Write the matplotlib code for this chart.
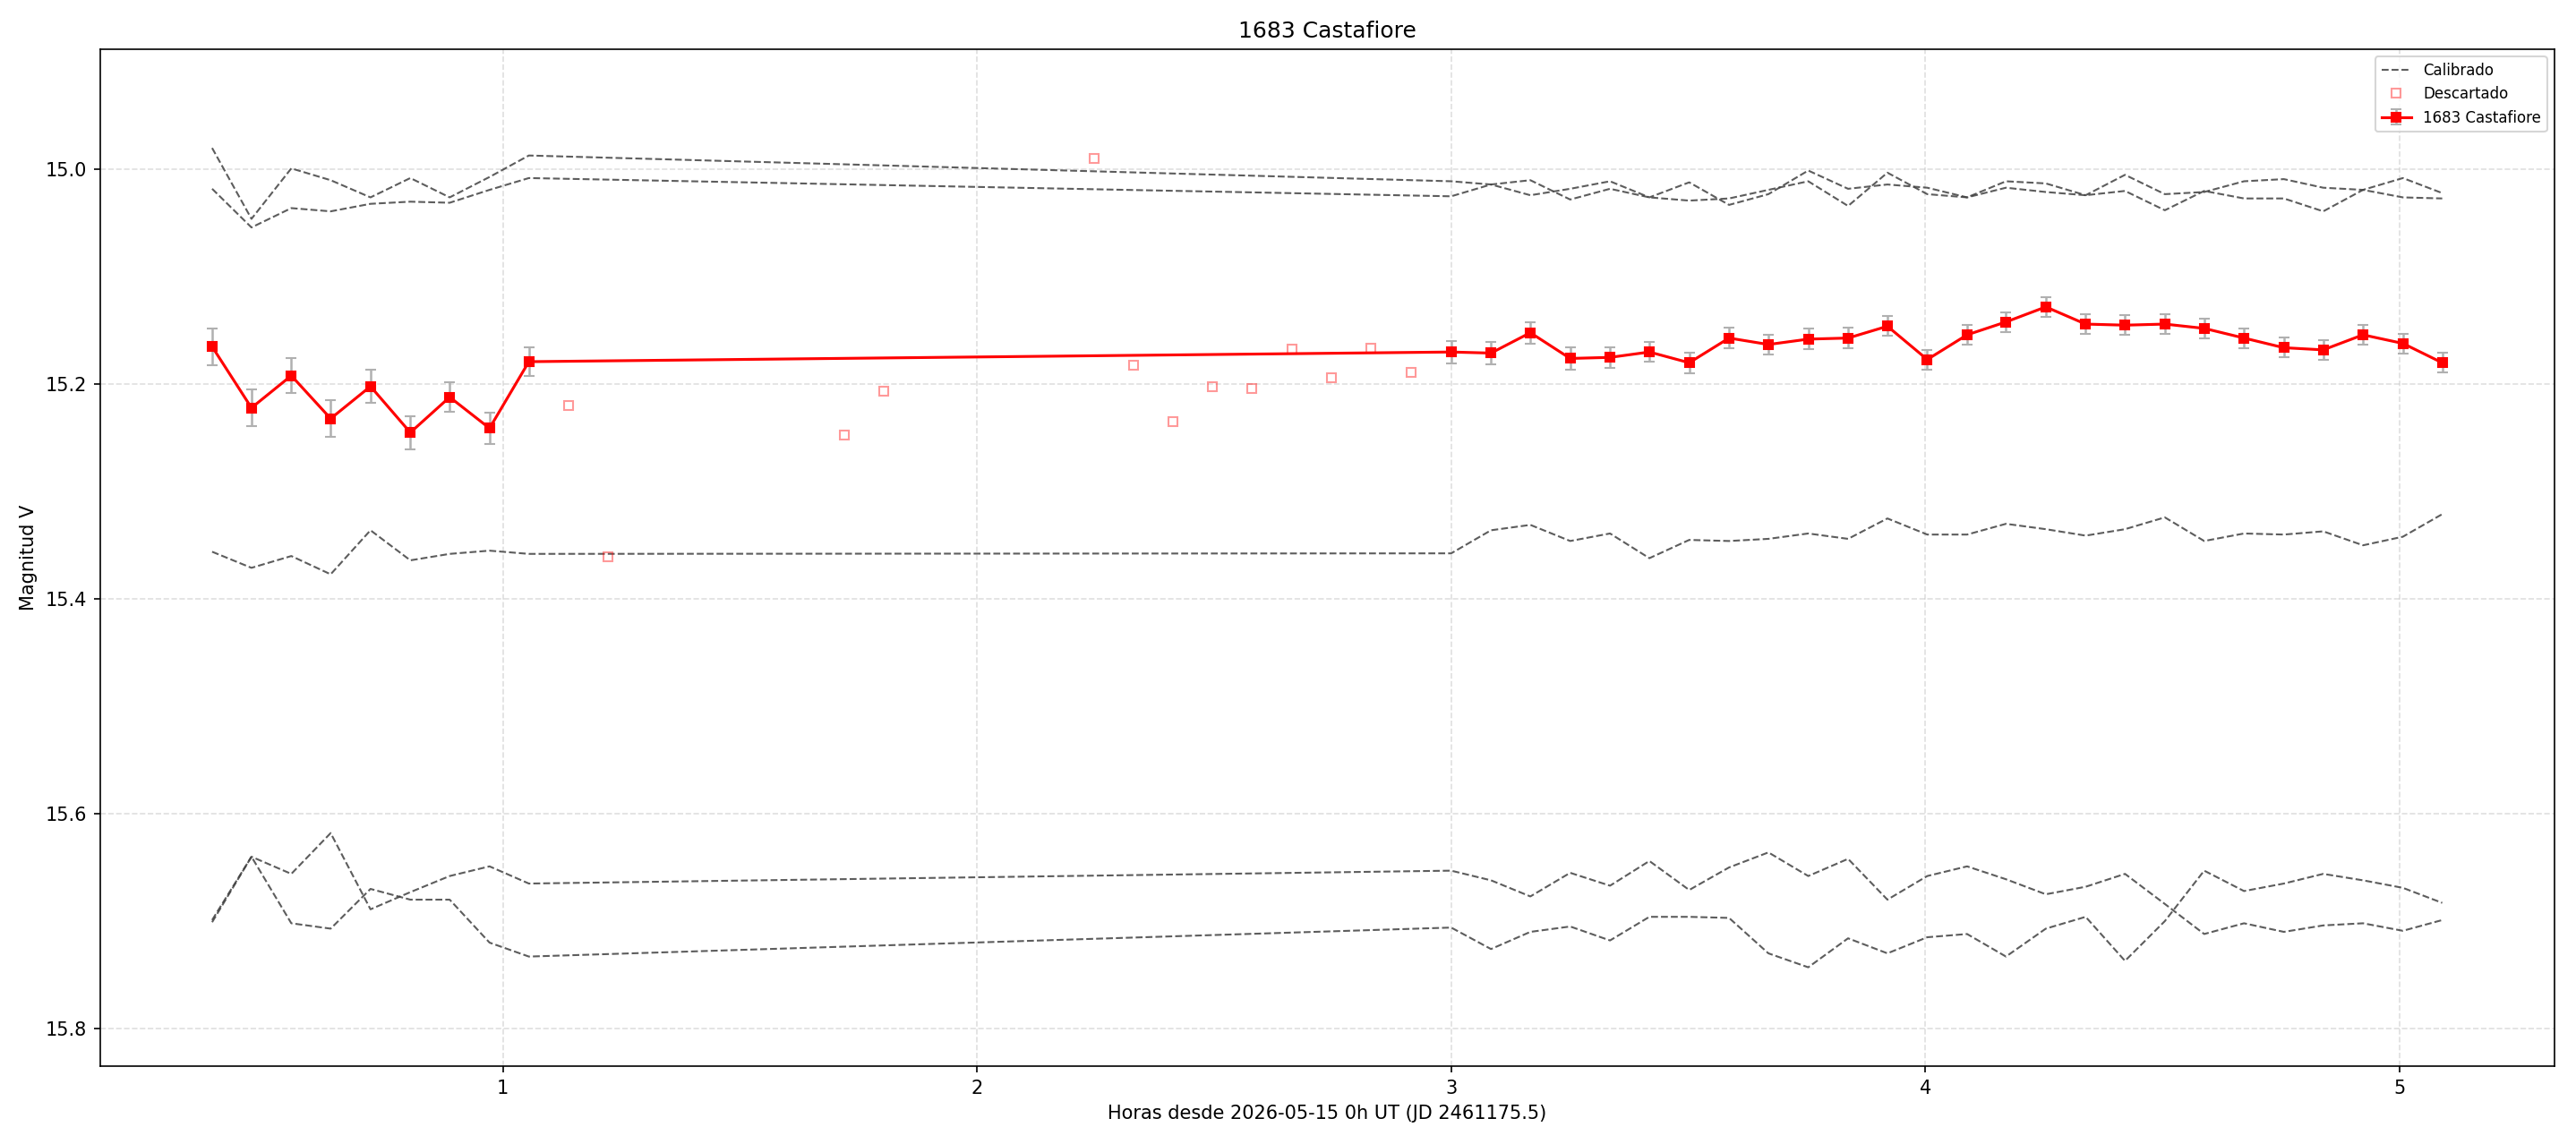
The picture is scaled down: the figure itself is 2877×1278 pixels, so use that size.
import numpy as np
import matplotlib
matplotlib.use("Agg")
import matplotlib.pyplot as plt

# Hours since 2026-05-15 0h UT for the good target points
t_good = [0.387, 0.470, 0.554, 0.637, 0.721, 0.805, 0.888, 0.972, 1.055,
          3.000, 3.084, 3.167, 3.251, 3.335, 3.418, 3.502, 3.586, 3.669,
          3.753, 3.837, 3.920, 4.004, 4.088, 4.170, 4.254, 4.338, 4.421,
          4.505, 4.588, 4.672, 4.756, 4.839, 4.923, 5.007, 5.090]

# Target magnitude and error
mag_target = [15.165, 15.222, 15.192, 15.232, 15.202, 15.245, 15.212, 15.241, 15.179,
              15.170, 15.171, 15.152, 15.176, 15.175, 15.170, 15.180, 15.157, 15.163,
              15.158, 15.157, 15.146, 15.177, 15.154, 15.142, 15.128, 15.144, 15.145,
              15.144, 15.148, 15.157, 15.166, 15.168, 15.154, 15.162, 15.180]
err_target = [0.017, 0.017, 0.016, 0.017, 0.0155, 0.0155, 0.014, 0.0146, 0.013,
              0.0106, 0.0103, 0.0101, 0.0103, 0.0097, 0.0093, 0.0097, 0.0093, 0.0093,
              0.0097, 0.0093, 0.0092, 0.0092, 0.0092, 0.0092, 0.0092, 0.009, 0.0092,
              0.0092, 0.0092, 0.0092, 0.0092, 0.0092, 0.0092, 0.0092, 0.0092]

# Discarded points
t_bad = [1.139, 1.222, 1.721, 1.804, 2.248, 2.331, 2.414, 2.497, 2.580,
         2.664, 2.747, 2.831, 2.915]
mag_bad = [15.220, 15.361, 15.2475, 15.2066, 14.990, 15.1824, 15.235, 15.2025, 15.204,
           15.1674, 15.194, 15.1666, 15.189]

# Calibrated comparison stars
comp_1 = [14.980, 15.046, 14.999, 15.010, 15.026, 15.008, 15.026, 15.007, 14.987,
          15.011, 15.014, 15.024, 15.018, 15.011, 15.026, 15.012, 15.033, 15.023,
          15.001, 15.018, 15.014, 15.017, 15.026, 15.017, 15.021, 15.024, 15.020,
          15.038, 15.020, 15.027, 15.027, 15.039, 15.019, 15.026, 15.027]
comp_2 = [15.018, 15.054, 15.036, 15.039, 15.032, 15.030, 15.031, 15.019, 15.008,
          15.025, 15.014, 15.010, 15.028, 15.018, 15.026, 15.029, 15.027, 15.019,
          15.011, 15.034, 15.003, 15.023, 15.026, 15.011, 15.013, 15.024, 15.005,
          15.023, 15.021, 15.011, 15.009, 15.017, 15.019, 15.008, 15.022]
comp_3 = [15.356, 15.371, 15.360, 15.377, 15.336, 15.364, 15.358, 15.355, 15.358,
          15.3575, 15.336, 15.331, 15.346, 15.339, 15.362, 15.345, 15.346, 15.344,
          15.339, 15.344, 15.325, 15.340, 15.340, 15.330, 15.335, 15.341, 15.335,
          15.324, 15.346, 15.339, 15.340, 15.337, 15.350, 15.342, 15.321]
comp_4 = [15.699, 15.640, 15.656, 15.618, 15.689, 15.673, 15.658, 15.649, 15.665,
          15.653, 15.662, 15.677, 15.655, 15.667, 15.644, 15.671, 15.650, 15.636,
          15.658, 15.642, 15.680, 15.658, 15.649, 15.661, 15.675, 15.668, 15.656,
          15.684, 15.712, 15.702, 15.710, 15.704, 15.702, 15.709, 15.699]
comp_5 = [15.701, 15.640, 15.702, 15.707, 15.670, 15.680, 15.680, 15.720, 15.733,
          15.706, 15.726, 15.710, 15.705, 15.718, 15.696, 15.696, 15.697, 15.730,
          15.743, 15.716, 15.730, 15.715, 15.712, 15.733, 15.707, 15.696, 15.737,
          15.700, 15.653, 15.672, 15.665, 15.656, 15.662, 15.669, 15.683]

target_name = "1683 Castafiore"

# Figure setup
fig = plt.figure(figsize=(2877 / 150, 1278 / 150), dpi=150)
ax = fig.add_axes([0.0389, 0.0681, 0.9528, 0.8889])

# Comparison stars
for i, comp in enumerate([comp_1, comp_2, comp_3, comp_4, comp_5]):
    ax.plot(t_good, comp, linestyle="--", color="0.25", linewidth=1.0, alpha=0.85,
            label="Calibrado" if i == 0 else None)

# Discarded points
ax.plot(t_bad, mag_bad, linestyle="none", marker="s", markersize=4.5,
        markerfacecolor="none", markeredgecolor="red", alpha=0.4, label="Descartado")

# Target light curve
ax.errorbar(t_good, mag_target, yerr=err_target, color="red", marker="s", markersize=5,
            linewidth=1.5, ecolor="#b0b0b0", elinewidth=1.2, capsize=3,
            zorder=5, label=target_name)

ax.set_ylim(15.835, 14.888)
ax.set_xlim(0.151, 5.327)
ax.set_title(target_name)
ax.set_xlabel("Horas desde 2026-05-15 0h UT (JD 2461175.5)")
ax.set_ylabel("Magnitud V")
ax.grid(True, linestyle="--", alpha=0.4)
ax.legend(loc="upper right", fontsize=8)

fig.savefig("out.png", dpi=150)
